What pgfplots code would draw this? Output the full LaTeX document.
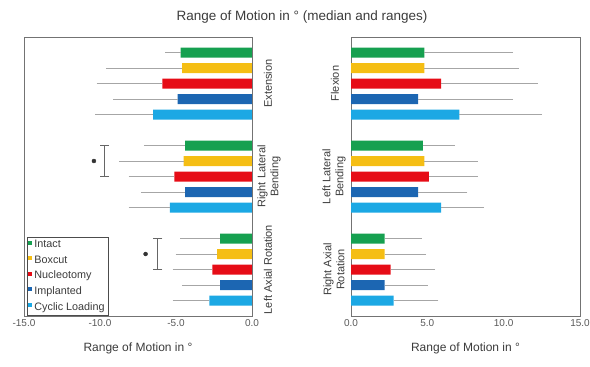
\documentclass[border=0pt]{standalone}
\usepackage{pgfplots}
\pgfplotsset{compat=1.18}
\usepackage{fontspec}
\setmainfont{Liberation Sans}
\definecolor{cIntact}{RGB}{22,160,80}
\definecolor{cBox}{RGB}{245,190,20}
\definecolor{cNuc}{RGB}{230,12,22}
\definecolor{cImp}{RGB}{28,102,178}
\definecolor{cCyc}{RGB}{28,168,228}
\definecolor{txt}{RGB}{60,60,60}
\tikzset{grp/.style={rotate=90, align=center, font=\fontsize{11}{13}\selectfont, text=txt}}
\pgfplotsset{
  common/.style={
    scale only axis, height=279pt,
    xbar, bar width=10pt,
    ymin=-1, ymax=17, y dir=reverse, ytick=\empty,
    enlargelimits=false,
    axis line style={black!55},
    major tick length=0pt,
    xticklabel style={font=\fontsize{10}{12}\selectfont, text=txt!85},
    /pgf/number format/.cd, fixed, fixed zerofill, precision=1, assume math mode=true,
    /pgfplots/.cd,
    xlabel style={font=\fontsize{12}{14}\selectfont, text=txt, at={(axis description cs:0.5,0)}, anchor=center, yshift=-32pt},
    xlabel={Range of Motion in °},
    error bars/error bar style={black!35, line width=0.6pt},
    error bars/error mark options={black!35, mark size=1.8pt, line width=0.6pt},
  },
  bars/.style={draw=none, fill=#1, bar shift=0pt},
  brk/.style={forget plot, sharp plot, black!60, line width=0.7pt, mark=-, mark size=4.5pt, mark options={line width=0.7pt}, error bars/x dir=none},
}
\begin{document}
\begin{tikzpicture}
\path[use as bounding box] (0,0) rectangle (590pt,367pt);
\node[font=\fontsize{13.5}{15}\selectfont, text=txt] at (302pt,350pt) {Range of Motion in ° (median and ranges)};
% ---------------- left axis
\begin{axis}[common, width=228pt, at={(24pt,51pt)}, anchor=south west,
  xmin=-15, xmax=0, xtick={-15,-10,-5,0},
  error bars/x dir=minus, error bars/x explicit,
  legend style={at={(axis cs:-14.8,16.95)}, anchor=south west, draw=black!70,
    font=\fontsize{10.8}{12}\selectfont, text=txt, inner sep=1.2pt,
    row sep=2.4pt, cells={anchor=west}},
  legend image code/.code={\fill[#1] (1pt,0.2pt) rectangle (5pt,4.2pt);},
  clip=false]
\addplot[bars=cIntact] coordinates {(-4.7,0) +- (0.9,0) (-4.4,6) +- (2.6,0) (-2.1,12) +- (2.5,0)};
\addplot[bars=cBox] coordinates {(-4.6,1) +- (4.9,0) (-4.5,7) +- (4.1,0) (-2.3,13) +- (2.6,0)};
\addplot[bars=cNuc] coordinates {(-5.9,2) +- (4.2,0) (-5.1,8) +- (2.9,0) (-2.6,14) +- (2.5,0)};
\addplot[bars=cImp] coordinates {(-4.9,3) +- (4.1,0) (-4.4,9) +- (2.8,0) (-2.1,15) +- (2.4,0)};
\addplot[bars=cCyc] coordinates {(-6.5,4) +- (3.7,0) (-5.4,10) +- (2.6,0) (-2.8,16) +- (2.3,0)};
\legend{Intact, Boxcut, Nucleotomy, Implanted, Cyclic Loading}
% significance brackets
\addplot[brk] coordinates {(-9.7,6) (-9.7,8)};
\addplot[brk] coordinates {(-6.2,12) (-6.2,14)};
\addplot[forget plot, only marks, mark=*, mark size=2pt, black!80, error bars/x dir=none] coordinates {(-10.4,7) (-7.0,13)};
% group labels
\node[xshift=16pt, grp] at (axis cs:0,2) {Extension};
\node[xshift=17pt, grp] at (axis cs:0,8) {Right Lateral\\Bending};
\node[xshift=16pt, grp] at (axis cs:0,14) {Left Axial Rotation};
\end{axis}
% ---------------- right axis
\begin{axis}[common, width=229pt, at={(351pt,51pt)}, anchor=south west,
  xmin=0, xmax=15, xtick={0,5,10,15},
  error bars/x dir=plus, error bars/x explicit, clip=false]
\addplot[bars=cIntact] coordinates {(4.8,0) +- (5.7,0) (4.7,6) +- (2.0,0) (2.2,12) +- (2.3,0)};
\addplot[bars=cBox] coordinates {(4.8,1) +- (6.1,0) (4.8,7) +- (3.4,0) (2.2,13) +- (2.6,0)};
\addplot[bars=cNuc] coordinates {(5.9,2) +- (6.2,0) (5.1,8) +- (3.1,0) (2.6,14) +- (2.8,0)};
\addplot[bars=cImp] coordinates {(4.4,3) +- (6.1,0) (4.4,9) +- (3.1,0) (2.2,15) +- (2.7,0)};
\addplot[bars=cCyc] coordinates {(7.1,4) +- (5.3,0) (5.9,10) +- (2.7,0) (2.8,16) +- (2.8,0)};
\node[xshift=-16pt, grp] at (axis cs:0,2) {Flexion};
\node[xshift=-17pt, grp] at (axis cs:0,8) {Left Lateral\\Bending};
\node[xshift=-17pt, grp] at (axis cs:0,14) {Right Axial\\Rotation};
\end{axis}
\end{tikzpicture}
\end{document}
